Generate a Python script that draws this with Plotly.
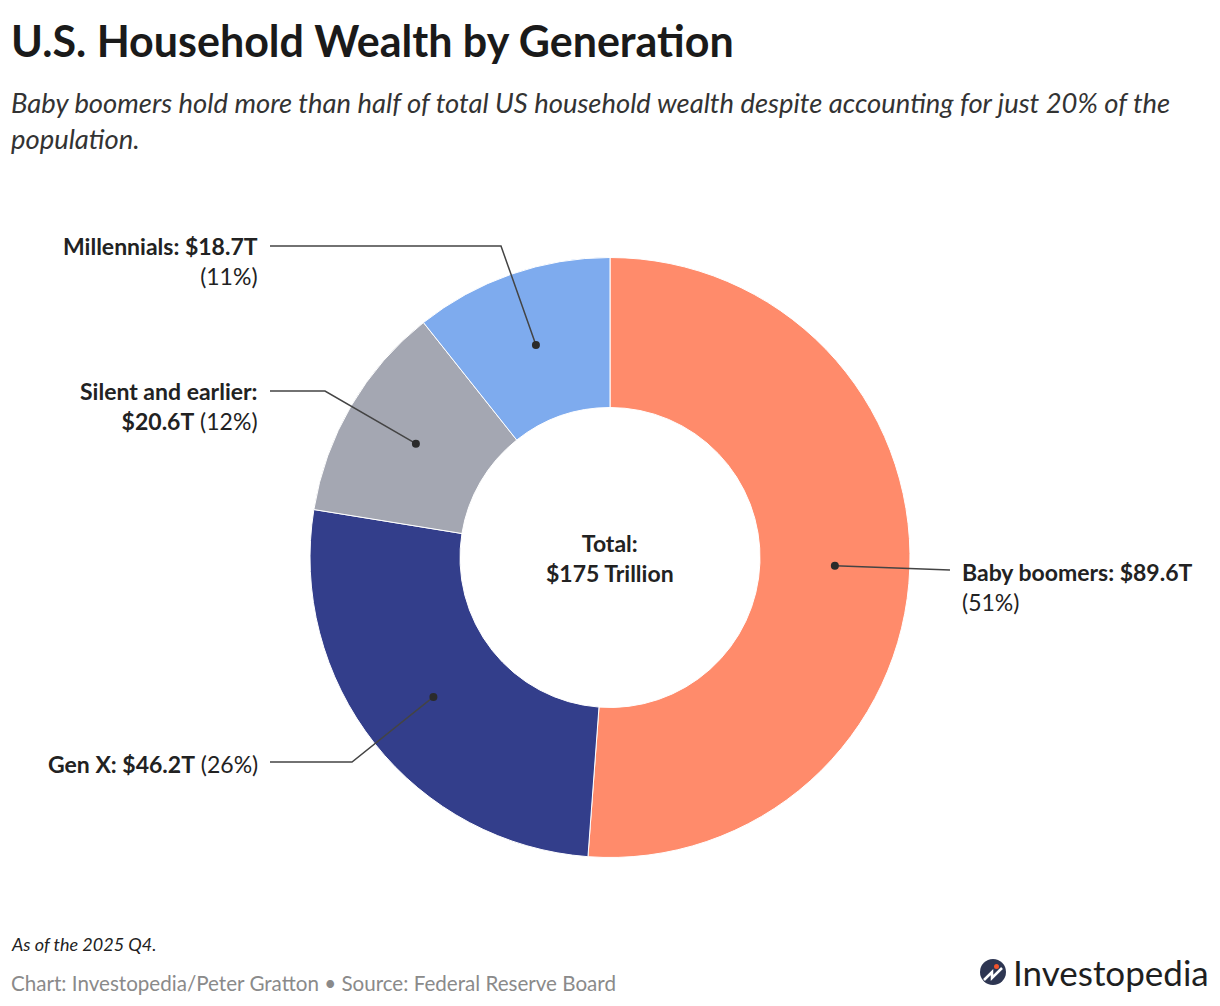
import math
import plotly.graph_objects as go

# Datos
generations = ['Baby boomers', 'Gen X', 'Silent and earlier', 'Millennials']
wealth_t = [89.6, 46.2, 20.6, 18.7]
colors = ['#FF8B6B', '#333E8B', '#A4A7B2', '#7EABEE']

W, H = 1220, 1006
CX, CY = 610, 557.5
R_OUT = 300
R_MID = 225
FONT = 'Lato'

total = sum(wealth_t)
pcts = [round(v / total * 100) for v in wealth_t]

fig = go.Figure()

fig.add_trace(go.Pie(
    labels=generations,
    values=wealth_t,
    marker=dict(colors=colors, line=dict(color='white', width=1)),
    hole=0.5,
    sort=False,
    direction='clockwise',
    rotation=0,
    textinfo='none',
    hoverinfo='label+value+percent',
    showlegend=False,
    domain=dict(x=[(CX - R_OUT) / W, (CX + R_OUT) / W],
                y=[1 - (CY + R_OUT) / H, 1 - (CY - R_OUT) / H]),
))

# puntos de cada porción (ángulo medio, radio medio del anillo)
dots = []
acc = 0
for v in wealth_t:
    mid = (acc + v / 2) / total * 2 * math.pi
    acc += v
    dots.append((CX + R_MID * math.sin(mid), CY - R_MID * math.cos(mid)))

# codos y extremos de las líneas guía (posiciones de etiqueta)
leader_pts = [
    [(950, 570)],
    [(352, 762), (270, 762)],
    [(325, 391), (270, 391)],
    [(501, 246), (270, 246)],
]

shapes = []
for (dx, dy), pts in zip(dots, leader_pts):
    path = f'M {dx},{dy} ' + ' '.join(f'L {x},{y}' for x, y in pts)
    shapes.append(dict(type='path', path=path, xref='x', yref='y',
                       line=dict(color='#444444', width=1.5), layer='above'))
    shapes.append(dict(type='circle', xref='x', yref='y',
                       x0=dx - 4, x1=dx + 4, y0=dy - 4, y1=dy + 4,
                       fillcolor='#2B2B2B', line=dict(width=0), layer='above'))

# logo (icono aproximado)
shapes.append(dict(type='circle', xref='x', yref='y', x0=980, x1=1006, y0=959, y1=985,
                   fillcolor='#2E3652', line=dict(width=0), layer='above'))
shapes.append(dict(type='circle', xref='x', yref='y', x0=994, x1=999, y0=964, y1=969,
                   fillcolor='#F2542D', line=dict(width=0), layer='above'))
shapes.append(dict(type='path', xref='x', yref='y',
                   path='M 984,980 L 992,972 L 992,978 L 1002,968',
                   line=dict(color='white', width=2.5), layer='above'))

lbl = dict(showarrow=False, xref='x', yref='y',
           font=dict(family=FONT, size=23, color='#222222'))

def fmt(i):
    return f'${wealth_t[i]:.1f}T', f'({pcts[i]}%)'

annotations = []
v, p = fmt(0)
annotations.append(dict(lbl, x=960, y=587, xanchor='left', align='left',
                        text=f'<b>{generations[0]}: {v}</b><br>{p}'))
v, p = fmt(1)
annotations.append(dict(lbl, x=260, y=764, xanchor='right', align='right',
                        text=f'<b>{generations[1]}: {v}</b> {p}'))
v, p = fmt(2)
annotations.append(dict(lbl, x=260, y=406, xanchor='right', align='right',
                        text=f'<b>{generations[2]}:</b><br><b>{v}</b> {p}'))
v, p = fmt(3)
annotations.append(dict(lbl, x=260, y=261, xanchor='right', align='right',
                        text=f'<b>{generations[3]}: {v}</b><br>{p}'))

annotations.append(dict(lbl, x=CX, y=CY, xanchor='center', align='center',
                        text=f'<b>Total:<br>${total:.0f} Trillion</b>'))

# títulos y pie de página
annotations += [
    dict(showarrow=False, xref='x', yref='y', x=9, y=40, xanchor='left', yanchor='middle',
         text='<b>U.S. Household Wealth by Generation</b>',
         font=dict(family=FONT, size=43, color='#1A1A1A')),
    dict(showarrow=False, xref='x', yref='y', x=9, y=120, xanchor='left', yanchor='middle',
         align='left',
         text='<i>Baby boomers hold more than half of total US household wealth despite accounting for just 20% of the<br>population.</i>',
         font=dict(family=FONT, size=27.4, color='#333333')),
    dict(showarrow=False, xref='x', yref='y', x=9, y=944, xanchor='left', yanchor='middle',
         text='<i>As of the 2025 Q4.</i>',
         font=dict(family=FONT, size=18, color='#222222')),
    dict(showarrow=False, xref='x', yref='y', x=9, y=983, xanchor='left', yanchor='middle',
         text='Chart: Investopedia/Peter Gratton • Source: Federal Reserve Board',
         font=dict(family=FONT, size=20.6, color='#8A8A8A')),
    dict(showarrow=False, xref='x', yref='y', x=1211, y=972, xanchor='right', yanchor='middle',
         text='Investopedia',
         font=dict(family=FONT, size=35, color='#1F1F1F')),
]

fig.update_layout(
    width=W, height=H,
    margin=dict(l=0, r=0, t=0, b=0),
    xaxis=dict(range=[0, W], visible=False, fixedrange=True),
    yaxis=dict(range=[H, 0], visible=False, fixedrange=True),
    shapes=shapes,
    annotations=annotations,
    plot_bgcolor='white',
    paper_bgcolor='white',
    font=dict(family=FONT),
)

fig.write_html('out.html', config={'displayModeBar': False},
               post_script="document.body.style.margin='0';")
